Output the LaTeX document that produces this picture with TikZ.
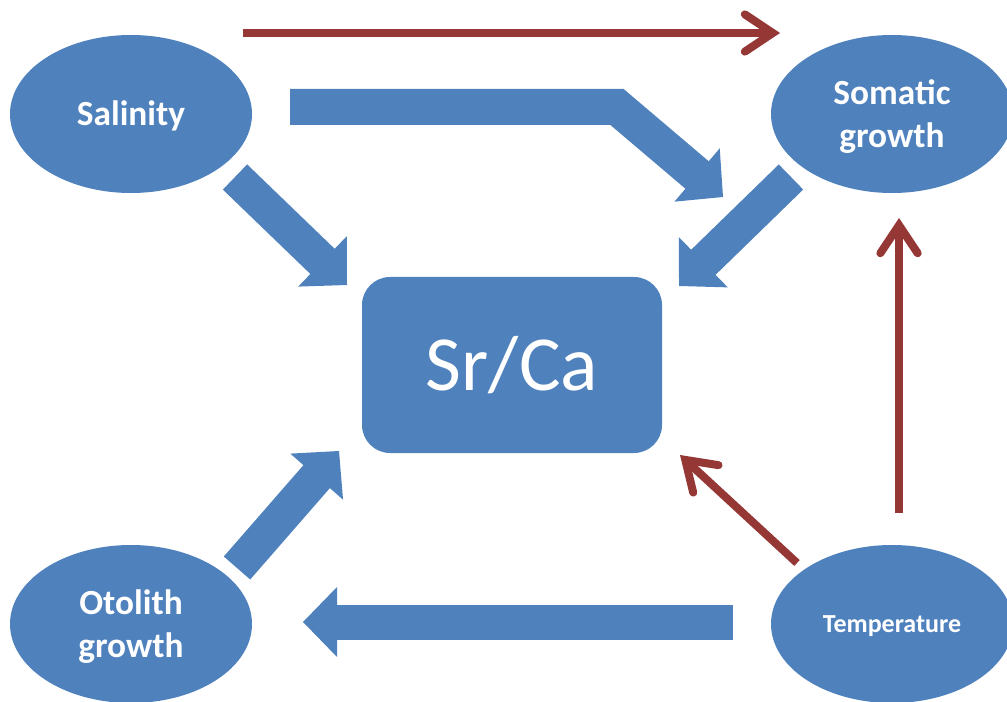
\documentclass[tikz,border=0pt]{standalone}
\usepackage{fontspec}
\setmainfont{Carlito}
\usetikzlibrary{shapes.geometric,arrows.meta,calc}
\definecolor{accblue}{HTML}{4F81BD}
\definecolor{accred}{HTML}{953735}
\newcommand\blkhead[2]{% #1 = point behind the tip, #2 = tip
  \path ($(#2)!25.5pt!(#1)$) coordinate (bk-base);
  \fill[blockhead] ($(bk-base)!26.25pt!90:(#1)$) -- (#2) -- ($(bk-base)!26.25pt!-90:(#1)$) -- cycle;
}
\begin{document}
\begin{tikzpicture}[x=0.75pt,y=-0.75pt,
  oval/.style={ellipse, fill=accblue, minimum width=181.5pt, minimum height=118.5pt,
    inner sep=0pt, text=white, align=center,
    font=\bfseries\fontsize{26.5}{32.5}\selectfont},
  twolinetext/.style={text depth=1pt},
  bigtext/.style={text height=22.1pt, text depth=5pt},
  smalltext/.style={font=\bfseries\fontsize{19.5}{23}\selectfont, text height=17.6pt, text depth=5pt},
  ratio/.style={rectangle, rounded corners=21pt, fill=accblue, minimum width=225pt,
    minimum height=132pt, inner sep=0pt, text=white,
    font=\fontsize{58.5}{70}\selectfont, text height=47.7pt, text depth=10pt},
  blockshaft/.style={draw=accblue, line width=26.25pt, line cap=butt, line join=miter},
  blockhead/.style={fill=accblue},
  redarrow/.style={draw=accred, line width=6pt,
    -{Straight Barb[length=21pt, width=28pt, line cap=round]}}
]
\useasboundingbox (0,0) rectangle (1007,702);
\clip (0,0) rectangle (1007,702);

% nodes
\node[oval, bigtext] (sal) at (131,114) {Salinity};
\node[oval, twolinetext] (som) at (892,114) {Somatic\\growth};
\node[oval, twolinetext] (oto) at (131,624) {Otolith\\growth};
\node[oval, smalltext] (tem) at (892,624) {Temperature};
\node[ratio] (src) at (512,365) {Sr/Ca};

% blue block arrows: named end points
\coordinate (a1t) at (235,177); \coordinate (a1h) at (347,285);
\coordinate (a2t) at (791,177); \coordinate (a2h) at (679,286);
\coordinate (a3t) at (237,568); \coordinate (a3h) at (339,451);
\coordinate (a4t) at (733,622); \coordinate (a4h) at (303,622);
\coordinate (a5t) at (290,107); \coordinate (a5c) at (617,107); \coordinate (a5h) at (723,197);

\draw[blockshaft] (a1t) -- ($(a1h)!22pt!(a1t)$);
\blkhead{a1t}{a1h}
\draw[blockshaft] (a2t) -- ($(a2h)!22pt!(a2t)$);
\blkhead{a2t}{a2h}
\draw[blockshaft] (a3t) -- ($(a3h)!22pt!(a3t)$);
\blkhead{a3t}{a3h}
\draw[blockshaft] (a4t) -- ($(a4h)!22pt!(a4t)$);
\blkhead{a4t}{a4h}
\draw[blockshaft, line width=27pt] (a5t) -- (a5c) -- ($(a5h)!22pt!(a5c)$);
\blkhead{a5c}{a5h}

% red arrows
\coordinate (r1t) at (243,33); \coordinate (r1h) at (780,33);
\coordinate (r2t) at (899,513); \coordinate (r2h) at (899,218);
\coordinate (r3t) at (797,563); \coordinate (r3h) at (680,455);
\draw[redarrow] (r1t) -- (r1h);
\draw[redarrow] (r2t) -- (r2h);
\draw[redarrow] (r3t) -- (r3h);
\end{tikzpicture}
\end{document}
